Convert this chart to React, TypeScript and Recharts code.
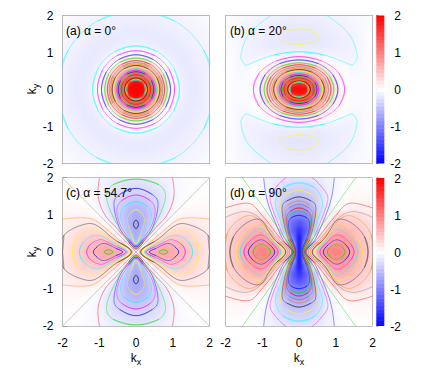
import { Scatter, ScatterChart, XAxis, YAxis } from "recharts";

const W = 436;
const H = 382;

// grid the heat maps are sampled on, first quadrant only (the panels are mirror symmetric)
const gridK = [0, 0.2, 0.4, 0.6, 0.8, 1, 1.2, 1.4, 1.6, 1.8, 2];
const axisTicks = [-2, -1, 0, 1, 2];
const barTicks = [-2, -1.5, -1, -0.5, 0, 0.5, 1, 1.5, 2];
const barValues = [
  -2, -1.9, -1.8, -1.7, -1.6, -1.5, -1.4, -1.3, -1.2, -1.1, -1, -0.9, -0.8, -0.7, -0.6, -0.5, -0.4, -0.3, -0.2, -0.1, 0,
  0.1, 0.2, 0.3, 0.4, 0.5, 0.6, 0.7, 0.8, 0.9, 1, 1.1, 1.2, 1.3, 1.4, 1.5, 1.6, 1.7, 1.8, 1.9, 2,
];

// rows are ky = 0..2, columns kx = 0..2
const heatA = [
  [3, 2.3, 1.25, 0.72, 0.26, 0.03, -0.11, -0.16, -0.17, -0.14, -0.12],
  [2.3, 1.85, 1.05, 0.62, 0.24, 0.01, -0.12, -0.16, -0.17, -0.14, -0.12],
  [1.25, 1.05, 0.75, 0.42, 0.14, -0.03, -0.13, -0.165, -0.16, -0.14, -0.11],
  [0.72, 0.62, 0.42, 0.2, 0.03, -0.09, -0.15, -0.17, -0.15, -0.13, -0.11],
  [0.26, 0.24, 0.14, 0.03, -0.06, -0.14, -0.165, -0.17, -0.14, -0.12, -0.1],
  [0.03, 0.01, -0.03, -0.09, -0.14, -0.16, -0.17, -0.15, -0.13, -0.11, -0.09],
  [-0.11, -0.12, -0.13, -0.15, -0.165, -0.17, -0.15, -0.14, -0.12, -0.1, -0.08],
  [-0.16, -0.16, -0.165, -0.17, -0.17, -0.15, -0.14, -0.12, -0.1, -0.09, -0.07],
  [-0.17, -0.17, -0.16, -0.15, -0.14, -0.13, -0.12, -0.1, -0.09, -0.08, -0.06],
  [-0.14, -0.14, -0.14, -0.13, -0.12, -0.11, -0.1, -0.09, -0.08, -0.06, -0.05],
  [-0.12, -0.12, -0.11, -0.11, -0.1, -0.09, -0.08, -0.07, -0.06, -0.05, -0.04],
];
const heatB = [
  [2.6, 2, 1.3, 0.75, 0.42, 0.2, 0.03, -0.02, -0.04, -0.03, -0.02],
  [1.7, 1.55, 1.1, 0.68, 0.38, 0.18, 0.02, -0.03, -0.04, -0.03, -0.02],
  [0.95, 0.9, 0.72, 0.5, 0.3, 0.12, 0, -0.04, -0.05, -0.03, -0.02],
  [0.45, 0.43, 0.36, 0.26, 0.15, 0.05, -0.02, -0.06, -0.06, -0.04, -0.02],
  [0.1, 0.09, 0.06, 0.02, -0.01, -0.05, -0.08, -0.09, -0.07, -0.04, -0.02],
  [-0.1, -0.1, -0.11, -0.12, -0.12, -0.12, -0.12, -0.11, -0.08, -0.05, -0.03],
  [-0.18, -0.18, -0.18, -0.17, -0.16, -0.14, -0.13, -0.11, -0.08, -0.05, -0.03],
  [-0.21, -0.21, -0.2, -0.18, -0.16, -0.15, -0.12, -0.1, -0.08, -0.05, -0.03],
  [-0.19, -0.19, -0.18, -0.16, -0.15, -0.13, -0.11, -0.09, -0.07, -0.05, -0.03],
  [-0.16, -0.16, -0.15, -0.14, -0.13, -0.11, -0.1, -0.08, -0.06, -0.04, -0.03],
  [-0.13, -0.13, -0.12, -0.11, -0.1, -0.09, -0.08, -0.06, -0.05, -0.04, -0.02],
];
const heatC = [
  [0, 0.35, 0.62, 0.7, 0.72, 0.66, 0.58, 0.47, 0.36, 0.27, 0.2],
  [-0.5, 0, 0.4, 0.55, 0.62, 0.6, 0.53, 0.43, 0.34, 0.26, 0.19],
  [-0.65, -0.4, 0, 0.25, 0.38, 0.43, 0.41, 0.36, 0.29, 0.22, 0.17],
  [-0.7, -0.55, -0.25, 0, 0.18, 0.27, 0.3, 0.28, 0.24, 0.19, 0.14],
  [-0.72, -0.62, -0.38, -0.18, 0, 0.13, 0.18, 0.18, 0.17, 0.14, 0.12],
  [-0.66, -0.6, -0.43, -0.27, -0.13, 0, 0.07, 0.1, 0.09, 0.08, 0.08],
  [-0.58, -0.53, -0.41, -0.3, -0.18, -0.07, 0, 0.04, 0.05, 0.05, 0.05],
  [-0.47, -0.43, -0.36, -0.28, -0.18, -0.1, -0.04, 0, 0.02, 0.03, 0.03],
  [-0.36, -0.34, -0.29, -0.24, -0.17, -0.09, -0.05, -0.02, 0, 0.01, 0.02],
  [-0.27, -0.26, -0.22, -0.19, -0.14, -0.08, -0.05, -0.03, -0.01, 0, 0.01],
  [-0.2, -0.19, -0.17, -0.14, -0.12, -0.08, -0.05, -0.03, -0.02, -0.01, 0],
];
const heatD = [
  [-2, 0.1, 0.46, 0.75, 0.92, 1, 0.92, 0.78, 0.6, 0.45, 0.33],
  [-1.95, -0.4, 0.2, 0.58, 0.83, 0.9, 0.86, 0.74, 0.57, 0.43, 0.32],
  [-1.85, -1, -0.02, 0.32, 0.62, 0.75, 0.75, 0.65, 0.52, 0.4, 0.3],
  [-1.6, -1.25, -0.45, 0.07, 0.4, 0.6, 0.62, 0.55, 0.45, 0.35, 0.27],
  [-1.35, -1.15, -0.6, -0.1, 0.2, 0.47, 0.47, 0.43, 0.36, 0.29, 0.23],
  [-1, -0.9, -0.58, -0.25, -0.03, 0.22, 0.3, 0.3, 0.28, 0.23, 0.17],
  [-0.79, -0.72, -0.5, -0.28, -0.12, -0.02, 0.08, 0.13, 0.14, 0.12, 0.1],
  [-0.59, -0.55, -0.43, -0.27, -0.12, -0.04, 0.03, 0.07, 0.08, 0.08, 0.07],
  [-0.44, -0.42, -0.35, -0.24, -0.13, -0.06, 0, 0.03, 0.05, 0.05, 0.05],
  [-0.33, -0.32, -0.27, -0.2, -0.12, -0.06, -0.02, 0.01, 0.02, 0.03, 0.03],
  [-0.23, -0.22, -0.2, -0.16, -0.1, -0.06, -0.03, -0.01, 0, 0.01, 0.02],
];

// contour levels low to high, each level a list of first-quadrant curves
const levelsA = [
  [
    [[2.13, 0], [1.84, 1.07], [1.07, 1.84], [0, 2.13]],
    [[1.18, 0], [1.02, 0.59], [0.59, 1.02], [0, 1.18]],
  ],
  [[[1.05, 0], [0.91, 0.53], [0.53, 0.91], [0, 1.05]]],
  [[[0.94, 0], [0.81, 0.47], [0.47, 0.81], [0, 0.94]]],
  [[[0.85, 0], [0.74, 0.43], [0.43, 0.74], [0, 0.85]]],
  [[[0.78, 0], [0.68, 0.39], [0.39, 0.68], [0, 0.78]]],
  [[[0.73, 0], [0.63, 0.37], [0.37, 0.63], [0, 0.73]]],
  [[[0.69, 0], [0.6, 0.35], [0.35, 0.6], [0, 0.69]]],
  [[[0.65, 0], [0.56, 0.33], [0.33, 0.56], [0, 0.65]]],
  [[[0.61, 0], [0.53, 0.31], [0.31, 0.53], [0, 0.61]]],
  [[[0.56, 0], [0.48, 0.28], [0.28, 0.48], [0, 0.56]]],
  [[[0.52, 0], [0.45, 0.26], [0.26, 0.45], [0, 0.52]]],
  [[[0.48, 0], [0.42, 0.24], [0.24, 0.42], [0, 0.48]]],
  [[[0.44, 0], [0.38, 0.22], [0.22, 0.38], [0, 0.44]]],
  [[[0.4, 0], [0.35, 0.2], [0.2, 0.35], [0, 0.4]]],
  [[[0.37, 0], [0.32, 0.19], [0.19, 0.32], [0, 0.37]]],
  [[[0.34, 0], [0.29, 0.17], [0.17, 0.29], [0, 0.34]]],
  [[[0.31, 0], [0.27, 0.16], [0.16, 0.27], [0, 0.31]]],
  [[[0.28, 0], [0.24, 0.14], [0.14, 0.24], [0, 0.28]]],
  [[[0.25, 0], [0.22, 0.13], [0.13, 0.22], [0, 0.25]]],
];
const levelsB = [
  [[[0, 1.22], [0.3, 1.26], [0.54, 1.38], [0.32, 1.6], [0, 1.63]]],
  [[[0, 1.02], [0.7, 0.93], [1.3, 0.71], [1.47, 0.67], [1.56, 0.8], [1.57, 0.98], [1.34, 1.52], [0.76, 2], [0.6, 2.15]]],
  [[[1.24, 0], [1.08, 0.45], [0.62, 0.77], [0, 0.89]]],
  [[[1.06, 0], [0.92, 0.4], [0.53, 0.7], [0, 0.8]]],
  [[[0.95, 0], [0.83, 0.36], [0.48, 0.63], [0, 0.72]]],
  [[[0.87, 0], [0.76, 0.34], [0.44, 0.58], [0, 0.67]]],
  [[[0.8, 0], [0.7, 0.31], [0.4, 0.54], [0, 0.62]]],
  [[[0.74, 0], [0.64, 0.29], [0.37, 0.5], [0, 0.58]]],
  [[[0.69, 0], [0.6, 0.27], [0.35, 0.47], [0, 0.54]]],
  [[[0.64, 0], [0.56, 0.25], [0.32, 0.44], [0, 0.5]]],
  [[[0.58, 0], [0.5, 0.23], [0.29, 0.4], [0, 0.46]]],
  [[[0.54, 0], [0.47, 0.21], [0.27, 0.37], [0, 0.42]]],
  [[[0.49, 0], [0.43, 0.19], [0.25, 0.33], [0, 0.38]]],
  [[[0.45, 0], [0.39, 0.18], [0.23, 0.3], [0, 0.35]]],
  [[[0.41, 0], [0.36, 0.16], [0.21, 0.27], [0, 0.31]]],
  [[[0.37, 0], [0.32, 0.14], [0.19, 0.24], [0, 0.28]]],
  [[[0.34, 0], [0.3, 0.13], [0.17, 0.23], [0, 0.26]]],
  [[[0.31, 0], [0.27, 0.12], [0.16, 0.2], [0, 0.23]]],
  [[[0.27, 0], [0.23, 0.11], [0.14, 0.18], [0, 0.21]]],
  [[[0.24, 0], [0.21, 0.1], [0.12, 0.17], [0, 0.19]]],
];
const levelsC = [
  [[[0, 0.63], [0.07, 0.75], [0, 0.86]]],
  [[[0, 0.22], [0.12, 0.45], [0.23, 0.81], [0.17, 1.03], [0, 1.15]]],
  [[[0, 0.19], [0.15, 0.38], [0.34, 0.7], [0.42, 0.96], [0.33, 1.22], [0, 1.36]]],
  [[[0, 0.17], [0.17, 0.34], [0.39, 0.65], [0.52, 1.06], [0.4, 1.38], [0, 1.54]]],
  [[[0, 0.14], [0.2, 0.33], [0.45, 0.66], [0.6, 1.25], [0.45, 1.55], [0, 1.72]]],
  [[[0, 0.11], [0.22, 0.31], [0.5, 0.72], [0.79, 1.4], [0.62, 1.82], [0, 1.97]]],
  [[[0, 0.08], [0.2, 0.27], [0.58, 0.7], [0.83, 0.98], [1.03, 1.49], [0.97, 2.1]]],
  [[[0, 0], [2.1, 2.1]]],
  [[[0.1, 0], [0.24, 0.14], [0.51, 0.37], [0.92, 0.72], [1.33, 0.92], [2.1, 0.88]]],
  [[[0.13, 0], [0.5, 0.28], [0.83, 0.54], [1.14, 0.75], [1.5, 0.72], [1.96, 0.45], [2, 0]]],
  [[[0.16, 0], [0.45, 0.2], [0.8, 0.45], [1.2, 0.6], [1.58, 0.42], [1.73, 0]]],
  [[[0.23, 0], [0.5, 0.17], [0.8, 0.36], [1.1, 0.45], [1.42, 0.28], [1.54, 0]]],
  [[[0.27, 0], [0.5, 0.13], [0.8, 0.28], [1, 0.33], [1.25, 0.2], [1.34, 0]]],
  [[[0.36, 0], [0.55, 0.1], [0.85, 0.23], [1.05, 0.15], [1.16, 0]]],
  [[[0.63, 0], [0.75, 0.06], [0.87, 0]]],
];
const levelsD = [
  [[[0.09, 0], [0.2, 0.35], [0.29, 0.7], [0.22, 0.92], [0, 0.99]]],
  [[[0.1, 0], [0.22, 0.35], [0.32, 0.8], [0.22, 1.03], [0, 1.11]]],
  [[[0.11, 0], [0.24, 0.35], [0.34, 0.85], [0.24, 1.1], [0, 1.19]]],
  [[[0.12, 0], [0.25, 0.33], [0.37, 0.95], [0.26, 1.2], [0, 1.29]]],
  [[[0.13, 0], [0.27, 0.33], [0.41, 1], [0.29, 1.28], [0, 1.38]]],
  [[[0.14, 0], [0.29, 0.32], [0.46, 1.1], [0.33, 1.38], [0, 1.49]]],
  [[[0.145, 0], [0.3, 0.31], [0.5, 1.18], [0.35, 1.55], [0, 1.67]]],
  [[[0.15, 0], [0.32, 0.3], [0.56, 1], [0.64, 1.35], [0.45, 1.72], [0, 1.87]]],
  [[[0.155, 0], [0.34, 0.28], [0.6, 0.85], [0.78, 1.37], [0.7, 1.66], [0.37, 2], [0, 2.1]]],
  [[[0.16, 0], [0.37, 0.24], [0.64, 0.78], [0.87, 1.41], [0.96, 2], [0.98, 2.15]]],
  [[[0.17, 0], [0.3, 0.25], [0.82, 1], [1.6, 2.08]]],
  [[[0.2, 0], [0.45, 0.3], [0.8, 0.75], [1.09, 1.09], [1.41, 1.32], [2.1, 1.16]]],
  [[[0.25, 0], [0.5, 0.28], [0.85, 0.68], [1.14, 0.97], [1.54, 1.09], [2.1, 0.89]]],
  [[[0.3, 0], [0.55, 0.27], [0.9, 0.65], [1.25, 0.97], [1.64, 0.87], [1.95, 0.5], [2.03, 0]]],
  [[[0.36, 0], [0.6, 0.27], [0.85, 0.6], [1.07, 0.88], [1.45, 0.77], [1.78, 0.42], [1.88, 0]]],
  [[[0.43, 0], [0.65, 0.27], [0.85, 0.55], [1.05, 0.77], [1.38, 0.62], [1.63, 0.3], [1.72, 0]]],
  [[[0.5, 0], [0.7, 0.27], [0.85, 0.48], [1.03, 0.63], [1.3, 0.5], [1.52, 0.25], [1.6, 0]]],
  [[[0.57, 0], [0.75, 0.25], [1, 0.46], [1.25, 0.37], [1.42, 0.2], [1.5, 0]]],
  [[[0.66, 0], [0.8, 0.2], [1.02, 0.33], [1.25, 0.22], [1.38, 0]]],
  [[[0.77, 0], [0.87, 0.14], [1.01, 0.2], [1.17, 0.14], [1.25, 0]]],
];

// gnuplot's line colours, the level index walks backwards through them
const lineColors = ["#ff0000", "#00e000", "#0000ff", "#ff00ff", "#00ffff", "#ffff00", "#222222", "#ff8000", "#808080"];
const FRAME = "#808080";
const FONT = "'Liberation Sans', Arial, sans-serif";
const FONT_SIZE = 12;
const PANEL_W = 147;
const PANEL_H = 148;
const CELL_W = (PANEL_W / 4) * 0.2;
const CELL_H = (PANEL_H / 4) * 0.2;

function heatColor(v: number) {
  const c = Math.max(-2, Math.min(2, v));
  const t = Math.round(255 * (1 - Math.abs(c) / 2));
  return c < 0 ? `rgb(${t},${t},255)` : `rgb(255,${t},${t})`;
}

function heatCells(rows: number[][]) {
  const cells: { x: number; y: number; v: number }[] = [];
  rows.forEach((row, j) => {
    row.forEach((v, i) => {
      const xs = i === 0 ? [0] : [gridK[i], -gridK[i]];
      const ys = j === 0 ? [0] : [gridK[j], -gridK[j]];
      xs.forEach((x) => ys.forEach((y) => cells.push({ x, y, v })));
    });
  });
  return cells;
}

// a curve that ends on an axis carries on into its own mirror image, so it crosses the axis without a kink
function acrossAxis(curve: number[][]) {
  const out = [...curve];
  const [x0, y0] = curve[0];
  const [xn, yn] = curve[curve.length - 1];
  if (curve.length > 2) {
    if (y0 === 0 && x0 !== 0) out.unshift([curve[1][0], -curve[1][1]]);
    else if (x0 === 0 && y0 !== 0) out.unshift([-curve[1][0], curve[1][1]]);
    const prev = curve[curve.length - 2];
    if (yn === 0 && xn !== 0) out.push([prev[0], -prev[1]]);
    else if (xn === 0 && yn !== 0) out.push([-prev[0], prev[1]]);
  }
  return out;
}

function HeatCell(props: any) {
  const { cx, cy, payload } = props;
  return (
    <rect
      x={cx - CELL_W / 2}
      y={cy - CELL_H / 2}
      width={CELL_W + 0.6}
      height={CELL_H + 0.6}
      fill={heatColor(payload.v)}
    />
  );
}

const NoDot = () => <g />;

// every axis takes 1px out of the plot area, so the margin gives it back
function panelMargin(left: number, top: number, width: number, height: number) {
  return { left: left - 1, top: top - 1, right: W - left - width - 1, bottom: H - top - height - 1 };
}

function Panel({
  left,
  top,
  heat,
  levels,
  start,
  showX,
  showY,
}: {
  left: number;
  top: number;
  heat: number[][];
  levels: number[][][][];
  start: number;
  showX: boolean;
  showY: boolean;
}) {
  const tickStyle = { fontSize: FONT_SIZE, fill: "#000", fontFamily: FONT };
  const flips = [
    [1, 1],
    [-1, 1],
    [1, -1],
    [-1, -1],
  ];
  return (
    <ScatterChart
      width={W}
      height={H}
      margin={panelMargin(left, top, PANEL_W, PANEL_H)}
      style={{ position: "absolute", left: 0, top: 0 }}
    >
      <Scatter className="heat" data={heatCells(heat)} shape={HeatCell} isAnimationActive={false} />
      {levels.map((curves, l) =>
        curves.map((curve, c) =>
          flips.map(([sx, sy]) => (
            <Scatter
              key={`${l}-${c}-${sx}-${sy}`}
              data={acrossAxis(curve).map(([x, y]) => ({ x: x * sx, y: y * sy }))}
              line={{ stroke: lineColors[(start - l + 90) % 9], strokeWidth: 0.6, strokeOpacity: 0.72 }}
              lineJointType="natural"
              shape={NoDot}
              isAnimationActive={false}
            />
          )),
        ),
      )}
      <XAxis
        type="number"
        dataKey="x"
        domain={[-2, 2]}
        ticks={axisTicks}
        allowDataOverflow
        height={1}
        interval={0}
        stroke={FRAME}
        tickSize={-4}
        tickMargin={16}
        tick={showX ? tickStyle : false}
      />
      <XAxis
        xAxisId="top"
        orientation="top"
        type="number"
        domain={[-2, 2]}
        ticks={axisTicks}
        allowDataOverflow
        height={1}
        stroke={FRAME}
        tickSize={-4}
        tick={false}
      />
      <YAxis
        type="number"
        dataKey="y"
        domain={[-2, 2]}
        ticks={axisTicks}
        allowDataOverflow
        width={1}
        interval={0}
        stroke={FRAME}
        tickSize={-4}
        tickMargin={13}
        tick={showY ? tickStyle : false}
      />
      <YAxis
        yAxisId="right"
        orientation="right"
        type="number"
        domain={[-2, 2]}
        ticks={axisTicks}
        allowDataOverflow
        width={1}
        stroke={FRAME}
        tickSize={-4}
        tick={false}
      />
    </ScatterChart>
  );
}

function BarCell(props: any) {
  const { cx, cy, payload } = props;
  const h = 148 / 40;
  return <rect x={cx - 4} y={cy - h / 2} width={8} height={h + 0.5} fill={heatColor(payload.v)} />;
}

function BarTick(props: any) {
  const { y, payload } = props;
  if (!Number.isInteger(payload.value)) return <g />;
  return (
    <text x={401} y={y + 4.5} textAnchor="end" fontSize={FONT_SIZE} fontFamily={FONT} fill="#000">
      {payload.value}
    </text>
  );
}

function ColorBar({ top }: { top: number }) {
  return (
    <ScatterChart
      width={W}
      height={H}
      margin={{ left: 375.3, top, right: W - 384.3 - 1, bottom: H - top - PANEL_H }}
      style={{ position: "absolute", left: 0, top: 0 }}
    >
      <XAxis type="number" dataKey="x" domain={[0, 1]} hide />
      <Scatter
        data={barValues.map((v) => ({ x: 0.5, y: v, v }))}
        shape={BarCell}
        isAnimationActive={false}
      />
      <YAxis
        type="number"
        dataKey="y"
        domain={[-2, 2]}
        ticks={barTicks}
        width={1}
        interval={0}
        allowDataOverflow
        stroke="none"
        tickLine={{ stroke: FRAME }}
        tickSize={-2}
        tick={BarTick}
      />
      <YAxis
        yAxisId="right"
        orientation="right"
        type="number"
        domain={[-2, 2]}
        ticks={barTicks}
        width={1}
        allowDataOverflow
        stroke="none"
        tickLine={{ stroke: FRAME }}
        tickSize={-2}
        tick={false}
      />
    </ScatterChart>
  );
}

function Labels() {
  const text = { fontSize: FONT_SIZE, fontFamily: FONT, fill: "#000" };
  return (
    <svg width={W} height={H} style={{ position: "absolute", left: 0, top: 0 }}>
      <text x={66} y={35} {...text}>(a) α = 0°</text>
      <text x={230} y={35} {...text}>(b) α = 20°</text>
      <text x={66} y={197} {...text}>(c) α = 54.7°</text>
      <text x={230} y={197} {...text}>(d) α = 90°</text>
      <text x={136} y={362} textAnchor="middle" {...text}>
        k<tspan dy={3} fontSize={9}>x</tspan>
      </text>
      <text x={299} y={362} textAnchor="middle" {...text}>
        k<tspan dy={3} fontSize={9}>x</tspan>
      </text>
      <text x={36} y={89} textAnchor="middle" transform="rotate(-90 36 89)" {...text}>
        k<tspan dy={3} fontSize={9}>y</tspan>
      </text>
      <text x={36} y={252} textAnchor="middle" transform="rotate(-90 36 252)" {...text}>
        k<tspan dy={3} fontSize={9}>y</tspan>
      </text>
    </svg>
  );
}

export default function App() {
  return (
    <div style={{ position: "absolute", left: 0, top: 0, width: W, height: H, background: "#fff" }}>
      <style>{`.heat{filter:blur(2px)}`}</style>
      <Panel left={62.5} top={15.5} heat={heatA} levels={levelsA} start={4} showX={false} showY />
      <Panel left={225.5} top={15.5} heat={heatB} levels={levelsB} start={5} showX={false} showY={false} />
      <Panel left={62.5} top={178} heat={heatC} levels={levelsC} start={6} showX showY />
      <Panel left={225.5} top={178} heat={heatD} levels={levelsD} start={2} showX showY={false} />
      <ColorBar top={15.5} />
      <ColorBar top={178} />
      <Labels />
    </div>
  );
}
